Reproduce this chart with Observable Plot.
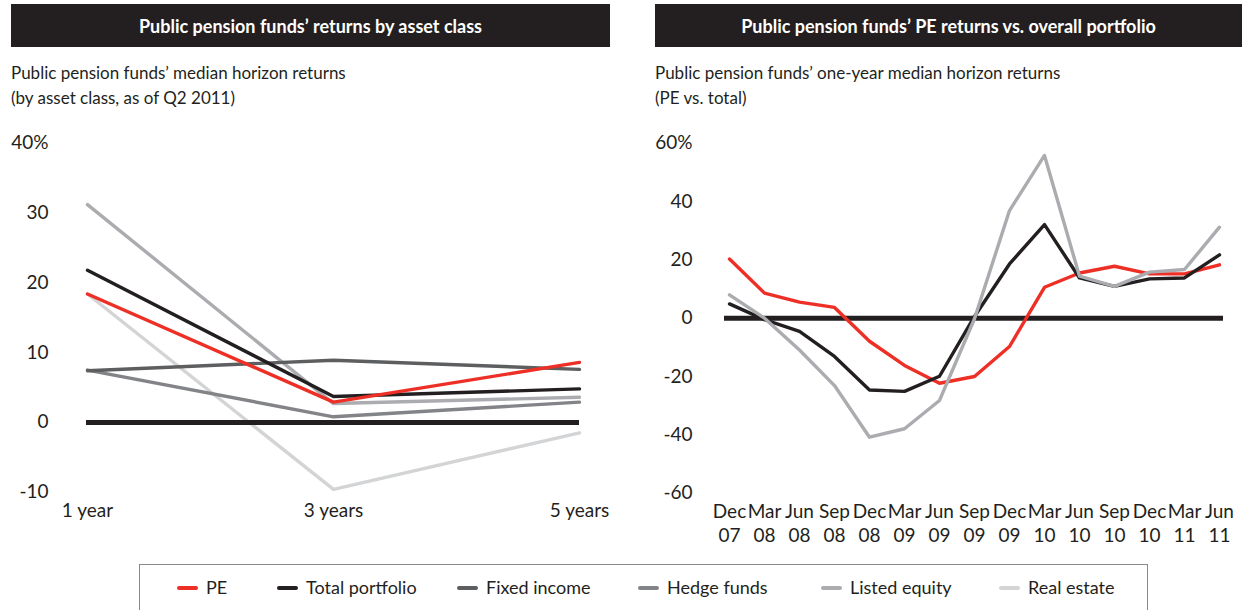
<!DOCTYPE html>
<html><head><meta charset="utf-8">
<script src="https://cdn.jsdelivr.net/npm/d3@7"></script>
<script src="https://cdn.jsdelivr.net/npm/@observablehq/plot@0.6"></script>
<style>
body{margin:0;width:1248px;height:610px;overflow:hidden;background:#fff;font-family:Lato,"Open Sans",sans-serif;color:#231f20;position:relative}
.hdr{position:absolute;top:4px;height:43px;background:#231f20;color:#fff;font-weight:bold;font-size:18px;display:flex;align-items:center;justify-content:center;white-space:nowrap}
.sub{position:absolute;top:60px;font-size:17px;line-height:25px;white-space:nowrap}
#left{position:absolute;left:0;top:120px}
#right{position:absolute;left:640px;top:120px}
#legend{position:absolute;left:139px;top:564px;width:1009px;height:60px;border:1px solid #8a8a8a;box-sizing:border-box}
.sw{position:absolute;top:21px;width:21px;height:4px;border-radius:2px}
.lt{position:absolute;top:12px;font-size:18px;line-height:20px;white-space:nowrap}
</style></head>
<body>
<div class="hdr" style="left:11px;width:599px">Public pension funds’ returns by asset class</div>
<div class="hdr" style="left:655px;width:587px">Public pension funds’ PE returns vs. overall portfolio</div>
<div class="sub" style="left:11px">Public pension funds’ median horizon returns<br>(by asset class, as of Q2 2011)</div>
<div class="sub" style="left:655px">Public pension funds’ one-year median horizon returns<br>(PE vs. total)</div>
<div id="left"></div>
<div id="right"></div>
<div id="legend"></div>
<script>
// ---- Data ----
const seriesNames = ["PE", "Total portfolio", "Fixed income", "Hedge funds", "Listed equity", "Real estate"];
const seriesColors = ["#ed2f26", "#231f20", "#5d5e60", "#838487", "#abacaf", "#d3d4d6"];

// Left chart: median horizon returns by asset class (as of Q2 2011)
const horizons = ["1 year", "3 years", "5 years"];
const pe1 = [18.4, 2.9, 8.6];
const total1 = [21.8, 3.7, 4.8];
const fixedIncome1 = [7.4, 8.9, 7.6];
const hedgeFunds1 = [7.5, 0.8, 2.9];
const listedEquity1 = [31.2, 2.7, 3.6];
const realEstate1 = [18.4, -9.6, -1.5];
const leftTicks = [-10, 0, 10, 20, 30, 40];

// Right chart: one-year median horizon returns, PE vs total
const quarters = ["Dec 07", "Mar 08", "Jun 08", "Sep 08", "Dec 08", "Mar 09", "Jun 09", "Sep 09", "Dec 09", "Mar 10", "Jun 10", "Sep 10", "Dec 10", "Mar 11", "Jun 11"];
const pe2 = [20.3, 8.6, 5.5, 3.7, -7.9, -16.2, -22.3, -20.0, -9.7, 10.6, 15.5, 17.8, 15.2, 15.2, 18.3];
const total2 = [4.9, -0.5, -4.5, -13.1, -24.6, -25.1, -19.9, 0.6, 18.6, 32.1, 13.8, 10.9, 13.5, 13.8, 21.7];
const listedEquity2 = [8.0, 0.0, -10.9, -23.1, -40.8, -37.9, -28.2, -0.2, 36.9, 55.8, 14.4, 10.9, 15.8, 16.7, 31.2];
const rightTicks = [-60, -40, -20, 0, 20, 40, 60];

// ---- Build ----
const colorOf = Object.fromEntries(seriesNames.map((s, i) => [s, seriesColors[i]]));
function tidy(name, xs, vals) { return vals.map((v, i) => ({series: name, x: xs[i], y: v})); }

const leftSeries = [
  ["Real estate", realEstate1], ["Listed equity", listedEquity1], ["Hedge funds", hedgeFunds1],
  ["Fixed income", fixedIncome1], ["Total portfolio", total1], ["PE", pe1]
];
const rightSeries = [["PE", pe2], ["Total portfolio", total2], ["Listed equity", listedEquity2]];

const font = {fontFamily: "Lato, 'Open Sans', sans-serif", fontSize: "19px", color: "#231f20", background: "transparent", overflow: "visible"};

const leftPlot = Plot.plot({
  width: 625, height: 430,
  marginLeft: 86, marginRight: 46, marginTop: 22.7, marginBottom: 58.3,
  style: font,
  x: {type: "point", domain: horizons, padding: 0},
  y: {domain: [-10, 40]},
  marks: [
    Plot.axisY({ticks: leftTicks, tickSize: 0, tickPadding: 38, label: null, tickFormat: d => d === 40 ? "40%" : String(d), fill: "#231f20"}),
    Plot.axisX({tickSize: 0, tickPadding: 11, label: null, fill: "#231f20"}),
    ...leftSeries.map(([name, vals]) => Plot.line(tidy(name, horizons, vals), {x: "x", y: "y", stroke: colorOf[name], strokeWidth: 3.4})),
    Plot.ruleY([0], {stroke: "#231f20", strokeWidth: 5})
  ]
});
document.getElementById("left").append(leftPlot);

const rightPlot = Plot.plot({
  width: 608, height: 430,
  marginLeft: 84, marginRight: 25, marginTop: 22.7, marginBottom: 57.3,
  style: font,
  x: {type: "point", domain: quarters, padding: 0},
  y: {domain: [-60, 60]},
  marks: [
    Plot.axisY({ticks: rightTicks, tickSize: 0, tickPadding: 32, label: null, tickFormat: d => d === 60 ? "60%" : String(d), fill: "#231f20"}),
    Plot.axisX({tickSize: 0, tickPadding: 7, label: null, lineHeight: 1.3, tickFormat: d => d.replace(" ", "\n"), fill: "#231f20"}),
    Plot.ruleY([0], {stroke: "#231f20", strokeWidth: 5}),
    ...rightSeries.map(([name, vals]) => Plot.line(tidy(name, quarters, vals), {x: "x", y: "y", stroke: colorOf[name], strokeWidth: 3.4}))
  ]
});
document.getElementById("right").append(rightPlot);

// Legend
const legendX = [37, 137, 317, 498, 681, 859];
const legend = document.getElementById("legend");
seriesNames.forEach((name, i) => {
  const sw = document.createElement("div");
  sw.className = "sw"; sw.style.left = legendX[i] + "px"; sw.style.background = seriesColors[i];
  const t = document.createElement("div");
  t.className = "lt"; t.style.left = (legendX[i] + 29) + "px"; t.textContent = name;
  legend.append(sw, t);
});
</script>
</body></html>
